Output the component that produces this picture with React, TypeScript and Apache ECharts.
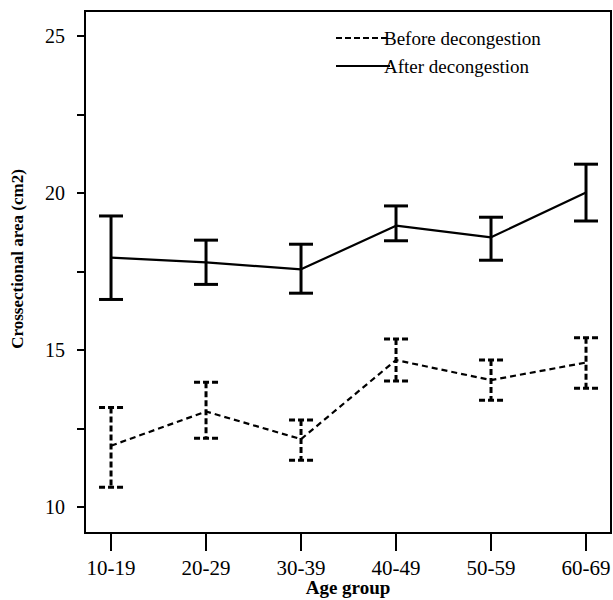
import React, { useEffect, useRef } from "react";
import * as echarts from "echarts";

const categories = ["10-19", "20-29", "30-39", "40-49", "50-59", "60-69"];
const beforeMean = [11.95, 13.04, 12.16, 14.68, 14.04, 14.6];
const beforeLow = [10.63, 12.19, 11.49, 14.01, 13.4, 13.78];
const beforeHigh = [13.17, 13.97, 12.77, 15.35, 14.68, 15.39];
const afterMean = [17.94, 17.79, 17.57, 18.96, 18.59, 20.02];
const afterLow = [16.61, 17.09, 16.81, 18.48, 17.86, 19.11];
const afterHigh = [19.27, 18.5, 18.37, 19.59, 19.23, 20.92];
const yTicks = [10, 12.5, 15, 17.5, 20, 22.5, 25];
const yLabels = [10, 15, 20, 25];
const legendNames = ["Before decongestion", "After decongestion"];

const FONT = "'Liberation Serif', 'DejaVu Serif', serif";

export default function App() {
  const ref = useRef<HTMLDivElement>(null);
  useEffect(() => {
    const chart = echarts.init(ref.current!, null, { renderer: "svg" });
    const xs = categories.map((_, i) => i + 1);
    const errData = (lo: number[], hi: number[]) => xs.map((x, i) => [x, lo[i], hi[i]]);
    const errSeries = (name: string, lo: number[], hi: number[], dashed: boolean) => ({
      type: "custom",
      name,
      data: errData(lo, hi),
      z: 3,
      renderItem: (params: any, api: any) => {
        const x = api.value(0);
        const top = api.coord([x, api.value(2)]);
        const bot = api.coord([x, api.value(1)]);
        const hw = 12;
        const style = {
          stroke: "#000",
          lineWidth: 3,
          lineDash: dashed ? [6, 3] : null,
          fill: null,
        };
        return {
          type: "group",
          children: [
            { type: "line", shape: { x1: top[0], y1: top[1], x2: bot[0], y2: bot[1] }, style },
            { type: "line", shape: { x1: top[0] - hw, y1: top[1], x2: top[0] + hw, y2: top[1] }, style },
            { type: "line", shape: { x1: bot[0] - hw, y1: bot[1], x2: bot[0] + hw, y2: bot[1] }, style },
          ],
        };
      },
    });
    chart.setOption({
      animation: false,
      backgroundColor: "#fff",
      grid: {
        left: 85,
        right: 2,
        top: 11,
        bottom: 67,
        outerBoundsMode: "none",
        containLabel: false,
        show: true,
        borderColor: "#000",
        borderWidth: 2,
        backgroundColor: "transparent",
      },
      xAxis: {
        type: "value",
        min: 0.726,
        max: 6.263,
        name: "Age group",
        nameLocation: "middle",
        nameGap: 45,
        nameMoveOverlap: false,
        nameTextStyle: { fontFamily: FONT, fontWeight: "bold", fontSize: 19, color: "#000" },
        splitLine: { show: false },
        axisLine: { show: true, lineStyle: { color: "#000", width: 2 } },
        axisTick: { show: true, length: 18, customValues: xs, lineStyle: { color: "#000", width: 2 } },
        axisLabel: {
          customValues: xs,
          formatter: (v: number) => categories[Math.round(v) - 1] ?? "",
          fontFamily: FONT,
          fontSize: 21,
          color: "#000",
          margin: 24,
        },
      },
      yAxis: {
        type: "value",
        min: 9.17,
        max: 25.8,
        name: "Crossectional area (cm2)",
        nameLocation: "middle",
        nameGap: 59,
        nameMoveOverlap: false,
        nameTextStyle: { fontFamily: FONT, fontWeight: "bold", fontSize: 17, color: "#000", padding: [0, 0, 0, 26] },
        splitLine: { show: false },
        axisLine: { show: true, lineStyle: { color: "#000", width: 2 } },
        axisTick: { show: true, length: 8, customValues: yTicks, lineStyle: { color: "#000", width: 2 } },
        axisLabel: {
          customValues: yLabels,
          fontFamily: FONT,
          fontSize: 20,
          color: "#000",
          margin: 20,
        },
      },
      series: [
        {
          type: "line",
          name: legendNames[0],
          data: xs.map((x, i) => [x, beforeMean[i]]),
          symbol: "none",
          lineStyle: { color: "#000", width: 2.2, type: [6, 4] },
          z: 2,
        },
        {
          type: "line",
          name: legendNames[1],
          data: xs.map((x, i) => [x, afterMean[i]]),
          symbol: "none",
          lineStyle: { color: "#000", width: 2.2, type: "solid" },
          z: 2,
        },
        errSeries(legendNames[0] + " CI", beforeLow, beforeHigh, true),
        errSeries(legendNames[1] + " CI", afterLow, afterHigh, false),
      ],
      graphic: [
        {
          type: "line",
          shape: { x1: 336, y1: 38, x2: 390, y2: 38 },
          style: { stroke: "#000", lineWidth: 2, lineDash: [6, 3] },
        },
        {
          type: "text",
          x: 384,
          y: 38,
          style: { text: legendNames[0], font: `19px ${FONT}`, fill: "#000", verticalAlign: "middle" },
        },
        {
          type: "line",
          shape: { x1: 336, y1: 66, x2: 390, y2: 66 },
          style: { stroke: "#000", lineWidth: 2 },
        },
        {
          type: "text",
          x: 384,
          y: 66,
          style: { text: legendNames[1], font: `19px ${FONT}`, fill: "#000", verticalAlign: "middle" },
        },
      ],
    });
    return () => chart.dispose();
  }, []);
  return (
    <div
      ref={ref}
      style={{ position: "fixed", left: 0, top: 0, width: 613, height: 600, background: "#fff" }}
    />
  );
}
